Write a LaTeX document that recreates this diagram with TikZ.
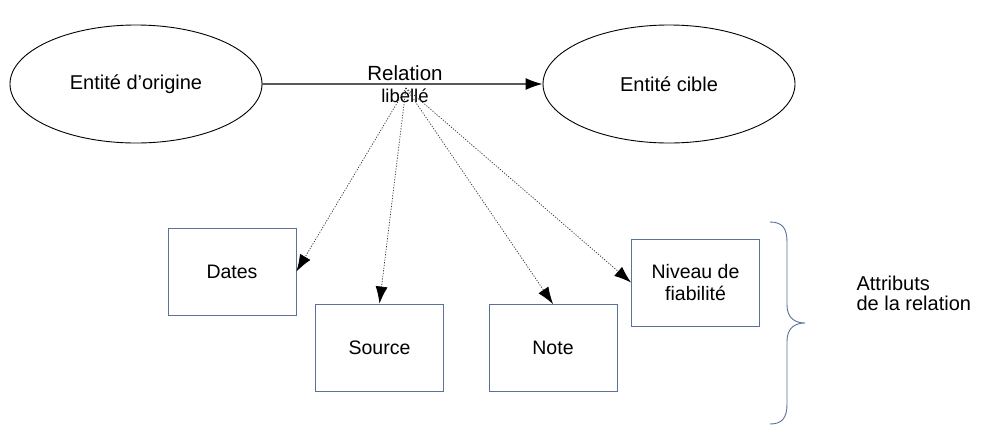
\documentclass[tikz,border=0pt]{standalone}
\usepackage{fontspec}
\setmainfont{Liberation Sans}
\usetikzlibrary{shapes.geometric,arrows.meta}
\definecolor{boxblue}{HTML}{5A7199}
\begin{document}
\begin{tikzpicture}[x=1pt,y=-1pt,
  entity/.style={ellipse,draw=black,line width=0.9pt,minimum width=252pt,minimum height=118pt,inner sep=0pt,font=\fontsize{20}{24}\selectfont},
  attrbox/.style={rectangle,draw=boxblue,line width=0.9pt,minimum width=128pt,minimum height=87pt,inner sep=0pt,align=center,font=\fontsize{19.5}{22}\selectfont},
  bigtip/.style={-{Latex[length=17pt,width=12pt,color=black]}},
  dotarrow/.style={bigtip,draw=black!80,line width=0.7pt,dash pattern=on 1.2pt off 1.5pt}
]
\useasboundingbox (0,0) rectangle (984,445);
\fill[white] (0,0) rectangle (984,445);
\node[entity] (orig) at (136,84) {Entité d’origine};
\node[entity] (cible) at (669,84) {Entité cible};
\draw[bigtip,draw=black!65,line width=1.3pt] (orig.east) -- (cible.west);
\node[font=\fontsize{20.5}{24}\selectfont] (rel) at (405,73) {Relation};
\node[font=\fontsize{18.5}{22}\selectfont] (lib) at (405,96) {libellé};
\coordinate (o) at (406,88);
\node[attrbox] (dates) at (232,271.5) {Dates};
\node[attrbox] (source) at (379.5,347.5) {Source};
\node[attrbox] (note) at (553,348) {Note};
\node[attrbox] (niveau) at (695.5,282.5) {Niveau de\\fiabilité};
\draw[dotarrow] (o) -- (dates.east);
\draw[dotarrow] (o) -- (source.north);
\draw[dotarrow] (o) -- (note.north);
\draw[dotarrow] (o) -- (niveau.west);
\draw[boxblue,line width=0.9pt] (770,222) .. controls (782,222) and (787,228) .. (787,242)
  -- (787,305) .. controls (787,318) and (795,323) .. (805,323)
  .. controls (795,323) and (787,328) .. (787,341)
  -- (787,404) .. controls (787,418) and (782,424) .. (770,424);
\node[anchor=west,align=left,font=\fontsize{20}{20}\selectfont] (attr) at (853,293) {Attributs\\de la relation};
\end{tikzpicture}
\end{document}
